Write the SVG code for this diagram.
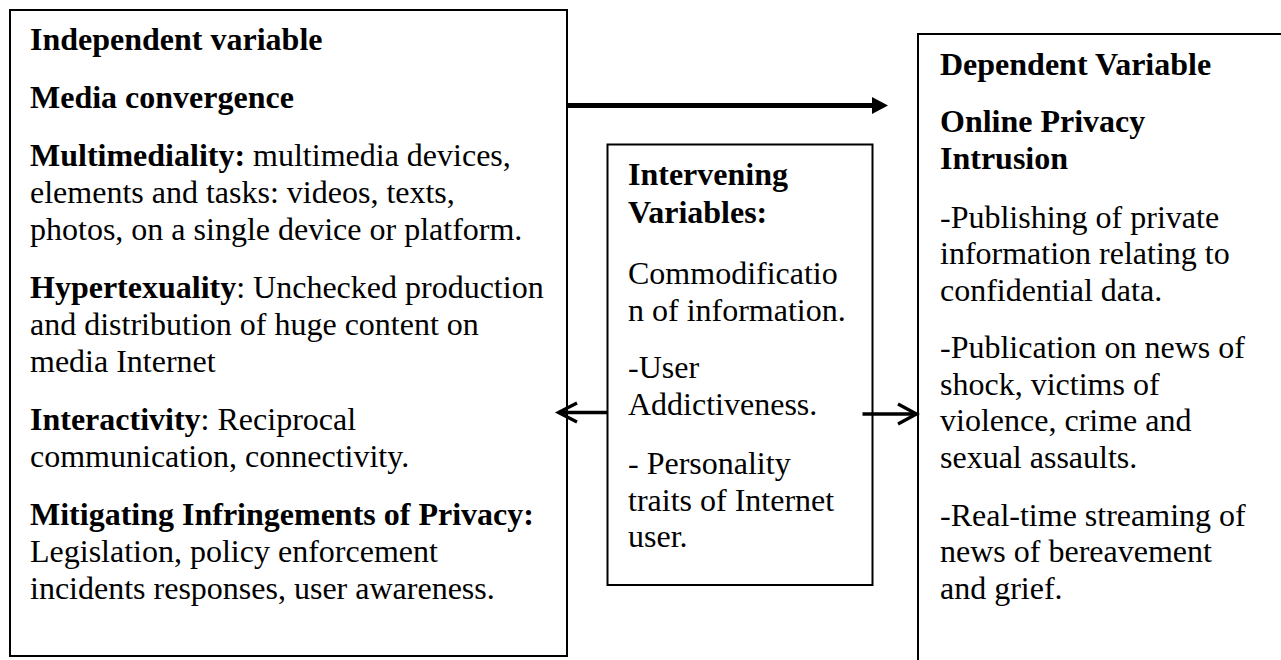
<svg xmlns="http://www.w3.org/2000/svg" width="1281" height="660" viewBox="0 0 1281 660">
<style>
.box{fill:#fff;stroke:#000;stroke-width:2}
text{font-family:"Liberation Serif","Times New Roman",serif;font-size:32px;fill:#000}
.b{font-weight:bold}
.ln{stroke:#000;fill:none;stroke-linecap:butt}
</style>
<rect width="1281" height="660" fill="#fff"/>
<g id="independent">
<rect class="box" x="10" y="10" width="557" height="646"/>
<text x="30" y="50" class="b">Independent variable</text>
<text x="30" y="108" class="b">Media convergence</text>
<text x="30" y="166"><tspan class="b">Multimediality:</tspan> multimedia devices,</text>
<text x="30" y="203">elements and tasks: videos, texts,</text>
<text x="30" y="240">photos, on a single device or platform.</text>
<text x="30" y="298"><tspan class="b">Hypertexuality</tspan>: Unchecked production</text>
<text x="30" y="335">and distribution of huge content on</text>
<text x="30" y="372">media Internet</text>
<text x="30" y="430"><tspan class="b">Interactivity</tspan>: Reciprocal</text>
<text x="30" y="467">communication, connectivity.</text>
<text x="30" y="525" class="b">Mitigating Infringements of Privacy:</text>
<text x="30" y="562">Legislation, policy enforcement</text>
<text x="30" y="599">incidents responses, user awareness.</text>
</g>
<g id="intervening">
<rect class="box" x="607.5" y="144.5" width="265" height="440.5"/>
<text x="628" y="185" class="b">Intervening</text>
<text x="628" y="223" class="b">Variables:</text>
<text x="628" y="284">Commodificatio</text>
<text x="628" y="321">n of information.</text>
<text x="628" y="378">-User</text>
<text x="628" y="415">Addictiveness.</text>
<text x="628" y="474">- Personality</text>
<text x="628" y="511">traits of Internet</text>
<text x="628" y="547">user.</text>
</g>
<g id="dependent">
<rect class="box" x="918" y="34" width="420" height="700"/>
<text x="940" y="75" class="b">Dependent Variable</text>
<text x="940" y="132" class="b">Online Privacy</text>
<text x="940" y="168.5" class="b">Intrusion</text>
<text x="940" y="227.5">-Publishing of private</text>
<text x="940" y="264">information relating to</text>
<text x="940" y="301">confidential data.</text>
<text x="940" y="358">-Publication on news of</text>
<text x="940" y="394.5">shock, victims of</text>
<text x="940" y="431">violence, crime and</text>
<text x="940" y="468">sexual assaults.</text>
<text x="940" y="526">-Real-time streaming of</text>
<text x="940" y="562">news of bereavement</text>
<text x="940" y="599">and grief.</text>
</g>
<g id="connectors">
<line class="ln" x1="567" y1="105.5" x2="873" y2="105.5" stroke-width="5"/>
<polygon points="872,97 888,105.5 872,114" fill="#000"/>
<line class="ln" x1="607" y1="412.5" x2="559" y2="412.5" stroke-width="3.3"/>
<polyline class="ln" points="577,403 558.5,412.5 577,422" stroke-width="3.3"/>
<line class="ln" x1="862.5" y1="414" x2="916" y2="414" stroke-width="3.3"/>
<polyline class="ln" points="898,404 916.5,414 898,424" stroke-width="3.3"/>
</g>
</svg>
